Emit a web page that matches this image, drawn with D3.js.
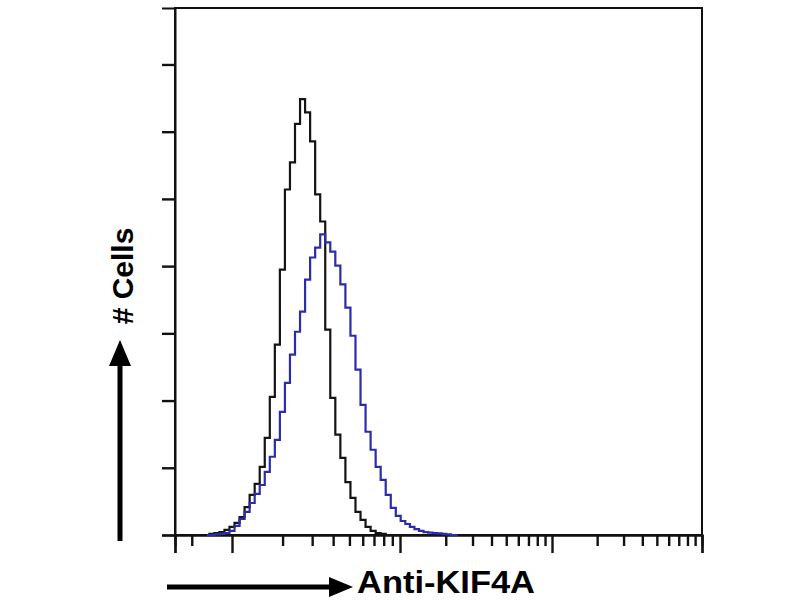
<!DOCTYPE html>
<html>
<head>
<meta charset="utf-8">
<script src="https://cdn.jsdelivr.net/npm/d3@7"></script>
<style>
  body { margin: 0; background: #fff; }
  svg { display: block; }
</style>
</head>
<body>
<div id="chart-area"></div>
<script>
// histogram bins, log10 fluorescence (decades)
var binDecades = [-0.15, -0.12, -0.09, -0.06, -0.03, 0.00, 0.03, 0.06, 0.09, 0.12,
    0.15, 0.18, 0.21, 0.24, 0.27, 0.30, 0.33, 0.36, 0.39, 0.42,
    0.45, 0.48, 0.51, 0.54, 0.57, 0.60, 0.63, 0.66, 0.69, 0.72,
    0.75, 0.78, 0.81, 0.84, 0.87, 0.90, 0.93, 0.96, 0.99, 1.02,
    1.05, 1.08, 1.11, 1.14, 1.17, 1.20, 1.23, 1.26, 1.29, 1.32,
    1.35, 1.38];

// isotype control (black)
var controlCounts = [0, 0.4, 0.7, 1.1, 1.9, 3.0, 4.5, 6.7, 10.4, 14.9,
    19.0, 25.3, 36.1, 51.4, 70.8, 98.7, 128.5, 138.6, 152.9, 162.1,
    157.2, 146.4, 126.7, 116.6, 76.4, 51.0, 37.3, 28.7, 19.7, 13.8,
    8.6, 5.6, 3.0, 1.5, 0.7, 0.4, 0, 0, 0, 0,
    0, 0, 0, 0, 0, 0, 0, 0, 0, 0,
    0, 0];

// Anti-KIF4A (blue)
var stainedCounts = [0, 0, 0.2, 0.4, 0.7, 1.5, 3.4, 6.0, 8.6, 11.9,
    15.3, 18.6, 23.5, 29.1, 35.4, 45.8, 56.6, 67.1, 75.6, 83.1,
    95.0, 103.2, 106.9, 111.8, 108.8, 105.4, 100.2, 93.2, 84.6, 74.1,
    61.5, 48.4, 38.4, 31.7, 25.3, 20.5, 14.9, 10.1, 7.1, 5.2,
    4.1, 3.0, 2.2, 1.5, 1.1, 0.9, 0.7, 0.6, 0.4, 0.2,
    0, 0];

var yTickValues = [0, 25, 50, 75, 100, 125, 150, 175];
var decades = [0, 1, 2];
var xLabel = "Anti-KIF4A";
var yLabel = "# Cells";

var canvasWidth = 800;
var canvasHeight = 600;
var plot = { left: 175, right: 702, top: 8, bottom: 535 };

var svg = d3.select("#chart-area")
    .append("svg")
        .attr("width", canvasWidth)
        .attr("height", canvasHeight);

// first decade is drawn a little wider than the others, like the cytometer plot
var x = d3.scaleLinear()
    .domain([-0.34, 0, 1, 2, 3])
    .range([plot.left, 232, 400, 552, plot.right]);

var y = d3.scaleLinear()
    .domain([0, 196])
    .range([plot.bottom, plot.top]);

// frame
svg.append("rect")
    .attr("x", plot.left)
    .attr("y", plot.top)
    .attr("width", plot.right - plot.left)
    .attr("height", plot.bottom - plot.top)
    .attr("fill", "none")
    .attr("stroke", "#111")
    .attr("stroke-width", 2);

// Y axis ticks
var yAxisCall = d3.axisLeft(y)
    .tickValues(yTickValues)
    .tickSize(13)
    .tickFormat("");
var yAxis = svg.append("g")
    .attr("class", "y-axis")
    .attr("transform", `translate(${plot.left},0)`)
    .call(yAxisCall);

// X axis: major + log minor ticks
var majorTicks = [-0.34].concat(decades, [3]);
var minorTicks = [-0.24];
decades.forEach(d => {
    d3.range(2, 10).forEach(k => minorTicks.push(d + Math.log10(k)));
});

var xMinorCall = d3.axisBottom(x)
    .tickValues(minorTicks)
    .tickSize(11)
    .tickFormat("");
var xMinor = svg.append("g")
    .attr("class", "x axis minor")
    .attr("transform", `translate(0,${plot.bottom})`)
    .call(xMinorCall);

var xMajorCall = d3.axisBottom(x)
    .tickValues(majorTicks)
    .tickSize(18)
    .tickFormat("");
var xMajor = svg.append("g")
    .attr("class", "x axis major")
    .attr("transform", `translate(0,${plot.bottom})`)
    .call(xMajorCall);

[yAxis, xMinor, xMajor].forEach(a => {
    a.select(".domain").attr("stroke", "#111").attr("stroke-width", 2);
    a.selectAll(".tick line").attr("stroke", "#111").attr("stroke-width", 2.4);
});

// histograms
var line = d3.line()
    .x(d => x(d.dec))
    .y(d => y(d.count))
    .curve(d3.curveStep);

var controlData = binDecades.map((d, i) => ({ dec: d, count: controlCounts[i] }));
var stainedData = binDecades.map((d, i) => ({ dec: d, count: stainedCounts[i] }));

svg.append("path")
    .datum(controlData)
    .attr("d", line)
    .attr("fill", "none")
    .attr("stroke", "#141414")
    .attr("stroke-width", 2.2);

svg.append("path")
    .datum(stainedData)
    .attr("d", line)
    .attr("fill", "none")
    .attr("stroke", "#2c2ca8")
    .attr("stroke-width", 2.2);

// Y label with arrow
svg.append("line")
    .attr("x1", 120).attr("y1", 541)
    .attr("x2", 120).attr("y2", 360)
    .attr("stroke", "#000")
    .attr("stroke-width", 5);
svg.append("path")
    .attr("d", "M120,340 L131,366 L109,366 Z")
    .attr("fill", "#000");

svg.append("text")
    .attr("class", "y axis-label")
    .attr("x", -276)
    .attr("y", 133)
    .attr("font-size", "30px")
    .attr("font-weight", "bold")
    .attr("font-family", "Liberation Sans, Arial, sans-serif")
    .attr("text-anchor", "middle")
    .attr("transform", "rotate(-90)")
    .text(yLabel);

// X label with arrow
svg.append("line")
    .attr("x1", 167).attr("y1", 587)
    .attr("x2", 334).attr("y2", 587)
    .attr("stroke", "#000")
    .attr("stroke-width", 5);
svg.append("path")
    .attr("d", "M353,587 L329,577 L329,597 Z")
    .attr("fill", "#000");

svg.append("text")
    .attr("class", "x axis-label")
    .attr("x", 357)
    .attr("y", 593)
    .attr("font-size", "32px")
    .attr("font-weight", "bold")
    .attr("font-family", "Liberation Sans, Arial, sans-serif")
    .attr("text-anchor", "start")
    .attr("textLength", 178)
    .attr("lengthAdjust", "spacingAndGlyphs")
    .text(xLabel);
</script>
</body>
</html>
